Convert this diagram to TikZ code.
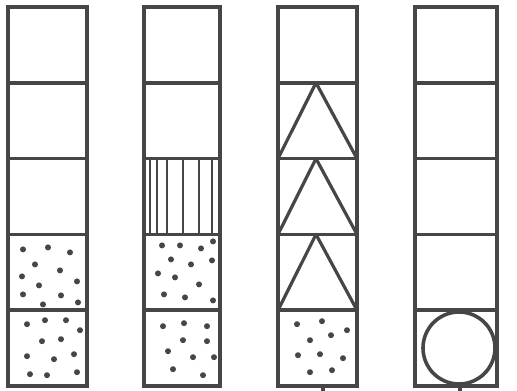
\documentclass[tikz,border=0pt]{standalone}
\usepackage{tikz}
\definecolor{ink}{RGB}{70,70,70}
\tikzset{
  cellbox/.style={draw=ink, line width=0.18cm},
  stripe/.style={draw=ink, line width=0.13cm},
  wedge/.style={draw=ink, line width=0.16cm, line join=round},
  grain/.style={fill=ink}
}

\begin{document}
\begin{tikzpicture}[x=0.05cm, y=-0.05cm]
  \useasboundingbox[fill=white] (0,0) rectangle (517,391);

  % four tubes of five cells
  \foreach \l/\r in {8/87, 144/220, 278/357, 415/497} {
    \draw[cellbox] (\l,7) rectangle (\r,386);
    \foreach \y in {82.8, 158.6, 234.4, 310.2}
      \draw[cellbox] (\l,\y) -- (\r,\y);
  }

  % tube 1: two dotted cells
  \foreach \dx/\dy in {15/15, 40/13, 62/18, 27/30, 52/36, 14/42, 31/51, 69/47, 15/60, 53/61, 35/70, 70/68}
    \fill[grain] (8+\dx,234.4+\dy) circle[radius=0.15cm];
  \foreach \dx/\dy in {19/14, 37/10, 58/10, 72/20, 34/31, 53/29, 19/46, 46/49, 66/44, 22/64, 39/65, 69/62}
    \fill[grain] (8+\dx,310.2+\dy) circle[radius=0.15cm];

  % tube 2: striped cell, then two dotted cells
  \foreach \x in {150, 157, 167, 183, 199, 212}
    \draw[stripe] (\x,158.6) -- (\x,234.4);
  \foreach \dx/\dy in {18/11, 36/11, 57/14, 69/7, 27/25, 47/30, 68/26, 14/39, 31/43, 55/50, 20/60, 41/63, 69/66}
    \fill[grain] (144+\dx,234.4+\dy) circle[radius=0.15cm];
  \foreach \dx/\dy in {19/16, 40/13, 63/16, 39/30, 63/31, 24/41, 49/47, 70/47, 29/59, 59/65}
    \fill[grain] (144+\dx,310.2+\dy) circle[radius=0.15cm];

  % tube 3: three triangles, one dotted cell
  \foreach \t/\b in {82.8/158.6, 158.6/234.4, 234.4/310.2}
    \draw[wedge] (278,\b) -- (316,\t) -- (357,\b);
  \foreach \dx/\dy in {19/14, 44/11, 69/20, 32/30, 53/25, 20/45, 42/44, 65/48, 32/62, 54/60}
    \fill[grain] (278+\dx,310.2+\dy) circle[radius=0.15cm];
  \draw[cellbox] (323,386) -- (323,391);

  % tube 4: ball in the bottom cell
  \draw[cellbox] (459,348) circle[radius=1.8cm];
  \draw[cellbox] (460,386) -- (460,391);
\end{tikzpicture}
\end{document}
